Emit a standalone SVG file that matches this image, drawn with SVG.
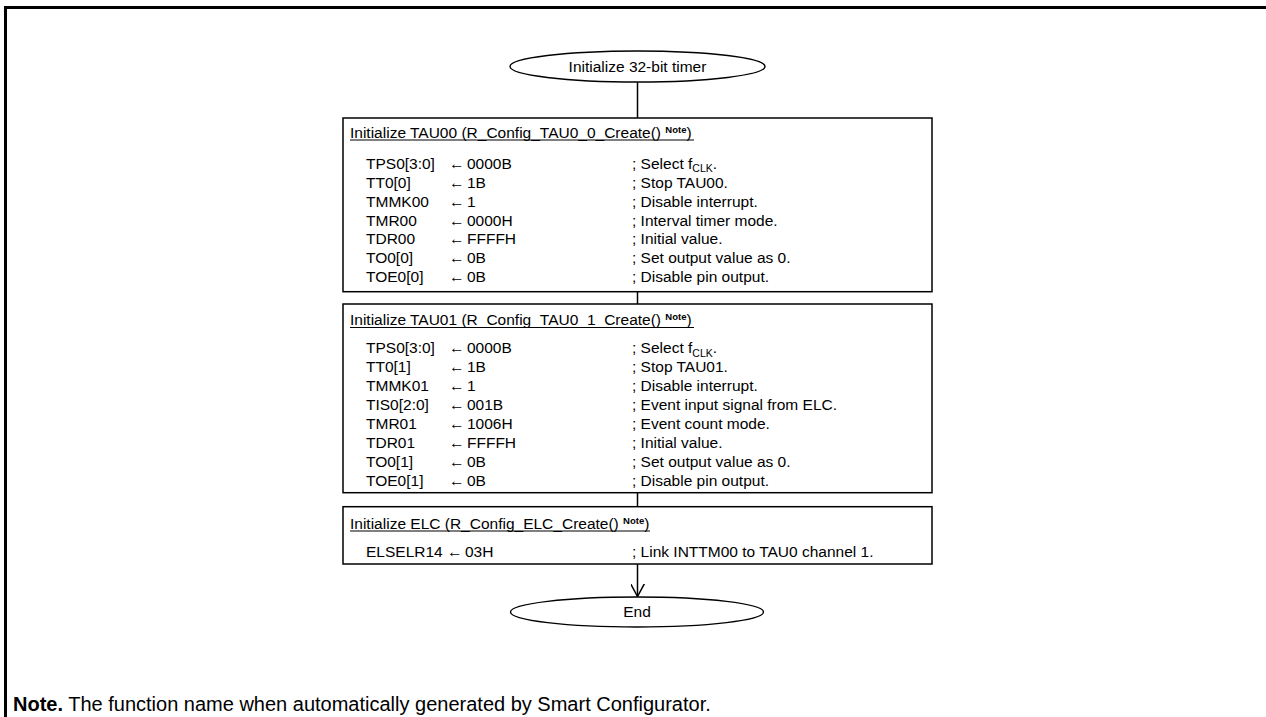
<svg xmlns="http://www.w3.org/2000/svg" width="1266" height="717" viewBox="0 0 1266 717">
  <defs>
    <marker id="open-arrow" viewBox="0 0 14 14" refX="13" refY="7" markerWidth="14" markerHeight="14" markerUnits="userSpaceOnUse" orient="auto">
      <path d="M0,0 L13,7 L0,14" fill="none" stroke="#000" stroke-width="1.5"/>
    </marker>
  </defs>
  <style>
    text { font-family: "Liberation Sans", Arial, sans-serif; font-size: 15.5px; fill: #000; }
    .term { fill: #fff; stroke: #000; stroke-width: 1.4; }
    .box { fill: #fff; stroke: #000; stroke-width: 1.5; }
    .link { fill: none; stroke: #000; stroke-width: 1.5; }
    .uline { stroke: #000; stroke-width: 1.1; }
    .sup { font-size: 9.5px; font-weight: bold; }
    .sub { font-size: 10.5px; }
    .frame { fill: none; stroke: #000; stroke-width: 3; }
    .foot { font-size: 20px; }
  </style>
  <rect width="1266" height="717" fill="#fff"/>

  <!-- frame: top and left rules -->
  <path class="frame" d="M5.5,717 V7.5 H1266"/>

  <!-- connectors -->
  <g id="connectors">
    <line class="link" x1="637.5" y1="82" x2="637.5" y2="118"/>
    <line class="link" x1="637.5" y1="291.7" x2="637.5" y2="304"/>
    <line class="link" x1="637.5" y1="492.7" x2="637.5" y2="506.7"/>
    <line class="link" x1="637.5" y1="564" x2="637.5" y2="596.5" marker-end="url(#open-arrow)"/>
  </g>

  <!-- start terminal -->
  <g id="start">
    <rect class="term" x="510" y="51" width="255" height="31" rx="127.5" ry="15.5"/>
    <text x="637.5" y="72" text-anchor="middle">Initialize 32-bit timer</text>
  </g>

  <!-- TAU00 setup: name / arrow / value / comment columns -->
  <g id="tau00">
    <rect class="box" x="343" y="118" width="589" height="173.7"/>
    <text x="350" y="137.5">Initialize TAU00 (R_Config_TAU0_0_Create() <tspan class="sup" dy="-5">Note</tspan><tspan dy="5">)</tspan></text>
    <line class="uline" x1="350" y1="140" x2="694" y2="140"/>
    <text x="366" y="168.8">TPS0[3:0]</text><text x="449" y="168.8">←</text><text x="467" y="168.8">0000B</text>
    <text x="632" y="168.8">; Select f<tspan class="sub" dy="3.5">CLK</tspan><tspan dy="-3.5">.</tspan></text>
    <text x="366" y="187.7">TT0[0]</text><text x="449" y="187.7">←</text><text x="467" y="187.7">1B</text><text x="632" y="187.7">; Stop TAU00.</text>
    <text x="366" y="206.6">TMMK00</text><text x="449" y="206.6">←</text><text x="467" y="206.6">1</text><text x="632" y="206.6">; Disable interrupt.</text>
    <text x="366" y="225.5">TMR00</text><text x="449" y="225.5">←</text><text x="467" y="225.5">0000H</text><text x="632" y="225.5">; Interval timer mode.</text>
    <text x="366" y="244.4">TDR00</text><text x="449" y="244.4">←</text><text x="467" y="244.4">FFFFH</text><text x="632" y="244.4">; Initial value.</text>
    <text x="366" y="263.3">TO0[0]</text><text x="449" y="263.3">←</text><text x="467" y="263.3">0B</text><text x="632" y="263.3">; Set output value as 0.</text>
    <text x="366" y="282.2">TOE0[0]</text><text x="449" y="282.2">←</text><text x="467" y="282.2">0B</text><text x="632" y="282.2">; Disable pin output.</text>
  </g>

  <!-- TAU01 setup -->
  <g id="tau01">
    <rect class="box" x="343" y="304" width="589" height="188.7"/>
    <text x="350" y="325">Initialize TAU01 (R_Config_TAU0_1_Create() <tspan class="sup" dy="-5">Note</tspan><tspan dy="5">)</tspan></text>
    <line class="uline" x1="350" y1="327.5" x2="694" y2="327.5"/>
    <text x="366" y="353.2">TPS0[3:0]</text><text x="449" y="353.2">←</text><text x="467" y="353.2">0000B</text>
    <text x="632" y="353.2">; Select f<tspan class="sub" dy="3.5">CLK</tspan><tspan dy="-3.5">.</tspan></text>
    <text x="366" y="372.1">TT0[1]</text><text x="449" y="372.1">←</text><text x="467" y="372.1">1B</text><text x="632" y="372.1">; Stop TAU01.</text>
    <text x="366" y="391">TMMK01</text><text x="449" y="391">←</text><text x="467" y="391">1</text><text x="632" y="391">; Disable interrupt.</text>
    <text x="366" y="409.9">TIS0[2:0]</text><text x="449" y="409.9">←</text><text x="467" y="409.9">001B</text><text x="632" y="409.9">; Event input signal from ELC.</text>
    <text x="366" y="428.8">TMR01</text><text x="449" y="428.8">←</text><text x="467" y="428.8">1006H</text><text x="632" y="428.8">; Event count mode.</text>
    <text x="366" y="447.7">TDR01</text><text x="449" y="447.7">←</text><text x="467" y="447.7">FFFFH</text><text x="632" y="447.7">; Initial value.</text>
    <text x="366" y="466.6">TO0[1]</text><text x="449" y="466.6">←</text><text x="467" y="466.6">0B</text><text x="632" y="466.6">; Set output value as 0.</text>
    <text x="366" y="485.5">TOE0[1]</text><text x="449" y="485.5">←</text><text x="467" y="485.5">0B</text><text x="632" y="485.5">; Disable pin output.</text>
  </g>

  <!-- ELC setup -->
  <g id="elc">
    <rect class="box" x="343" y="506.7" width="589" height="57.3"/>
    <text x="350" y="528.5">Initialize ELC (R_Config_ELC_Create() <tspan class="sup" dy="-5">Note</tspan><tspan dy="5">)</tspan></text>
    <line class="uline" x1="350" y1="531" x2="650" y2="531"/>
    <text x="366" y="556.5">ELSELR14</text><text x="447" y="556.5">←</text><text x="465" y="556.5">03H</text>
    <text x="632" y="556.5">; Link INTTM00 to TAU0 channel 1.</text>
  </g>

  <!-- end terminal -->
  <g id="end">
    <rect class="term" x="510.5" y="597" width="253" height="30" rx="126.5" ry="15"/>
    <text x="637" y="617" text-anchor="middle">End</text>
  </g>

  <!-- footnote -->
  <g id="footnote">
    <text class="foot" x="13" y="711"><tspan font-weight="bold">Note.</tspan> The function name when automatically generated by Smart Configurator.</text>
  </g>
</svg>
